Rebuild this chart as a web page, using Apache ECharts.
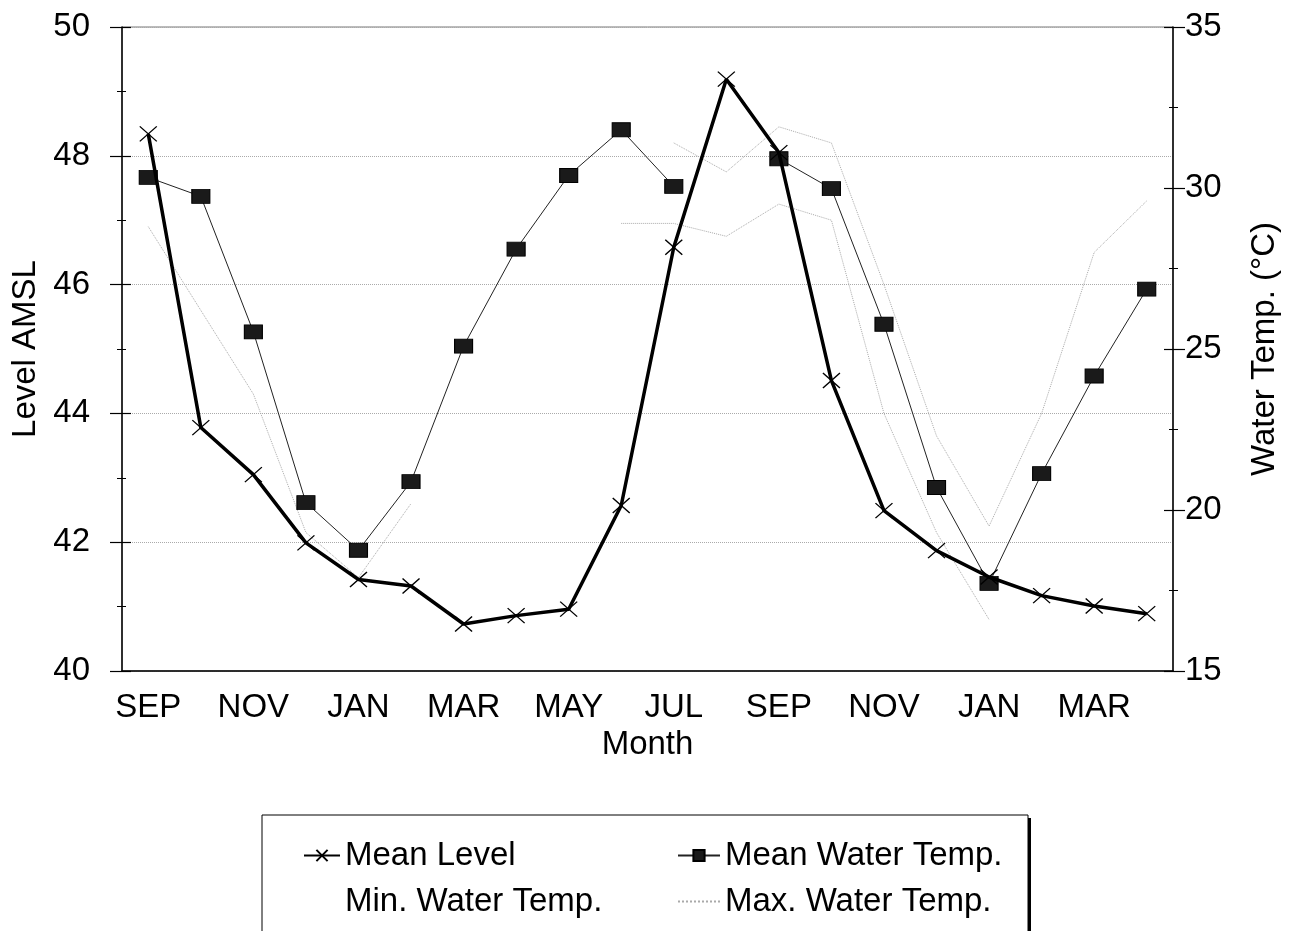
<!DOCTYPE html>
<html>
<head>
<meta charset="utf-8">
<title>Mean Level and Water Temp.</title>
<script src="https://cdn.jsdelivr.net/npm/echarts@6/dist/echarts.min.js"></script>
<style>
    html, body { margin: 0; padding: 0; background: #fff; }
    #main { width: 1294px; height: 931px; }
</style>
</head>
<body>
<div id="main"></div>
<script>
// months on the x axis (two seasons, SEP .. APR)
const months = ['SEP', 'OCT', 'NOV', 'DEC', 'JAN', 'FEB', 'MAR', 'APR', 'MAY', 'JUN', 'JUL', 'AUG',
    'SEP', 'OCT', 'NOV', 'DEC', 'JAN', 'FEB', 'MAR', 'APR'];

// left axis: level AMSL
const meanLevel = [48.34, 43.78, 43.05, 41.99, 41.42, 41.32, 40.73, 40.86, 40.96, 42.57, 46.58, 49.19,
    48.05, 44.51, 42.49, 41.87, 41.46, 41.17, 41.01, 40.89];

// right axis: water temp (°C), AUG has no mean value
const meanTemp = [30.33, 29.74, 25.53, 20.23, 18.75, 20.88, 25.09, 28.10, 30.39, 31.81, 30.05, null,
    30.91, 29.98, 25.77, 20.70, 17.72, 21.13, 24.16, 26.86];

// min / max are very faint in the picture, only the readable parts are kept
const minTemp = [28.8, 26.2, 23.6, 19.3, 17.9, 20.2, null, null, null, 28.9, 28.9, 28.5,
    29.5, 29.0, 23.0, 19.3, 16.6, null, null, null];
const maxTemp = [null, null, null, null, null, null, null, null, null, null, 31.4, 30.5,
    31.9, 31.4, 27.0, 22.3, 19.5, 23.0, 28.0, 29.6];

const levelTicks = { min: 40, max: 50, step: 2 };
const tempTicks = { min: 15, max: 35, step: 5 };

const font = 'Liberation Sans, Arial, Helvetica, sans-serif';
const crossPath = 'path://M0,0L10,10M10,0L0,10';

const chart = echarts.init(document.getElementById('main'));

const option = {
    backgroundColor: '#fff',
    animation: false,
    textStyle: { fontFamily: font },
    grid: {
        left: 122, right: 121, top: 27, bottom: 260,
        show: true, borderColor: '#777', borderWidth: 1
    },
    xAxis: [
        {
            type: 'category',
            data: months,
            boundaryGap: true,
            position: 'bottom',
            axisLine: { lineStyle: { color: '#000', width: 1.5 } },
            axisTick: { alignWithLabel: true, interval: 0, length: 11, lineStyle: { color: '#000', width: 1.2 } },
            axisLabel: { interval: 1, margin: 20, fontSize: 33, color: '#000', fontFamily: font },
            name: 'Month',
            nameLocation: 'middle',
            nameGap: 57,
            nameTextStyle: { fontSize: 33, color: '#000', fontFamily: font },
            splitLine: { show: false }
        },
        {
            // only here so the ticks cross the axis
            type: 'category',
            data: months,
            boundaryGap: true,
            position: 'bottom',
            axisLine: { show: false },
            axisTick: { inside: true, alignWithLabel: true, interval: 0, length: 11, lineStyle: { color: '#000', width: 1.2 } },
            axisLabel: { show: false },
            splitLine: { show: false }
        }
    ],
    yAxis: [
        {
            type: 'value',
            position: 'left',
            min: levelTicks.min, max: levelTicks.max, interval: levelTicks.step,
            axisLine: { show: true, lineStyle: { color: '#000', width: 1.5 } },
            axisTick: { show: true, length: 12, lineStyle: { color: '#000', width: 1.2 } },
            minorTick: { show: true, splitNumber: 2, length: 5, lineStyle: { color: '#000' } },
            axisLabel: { margin: 32, fontSize: 33, color: '#000', fontFamily: font },
            splitLine: { show: true, lineStyle: { color: '#aaa', type: 'dotted', width: 1 } },
            name: 'Level AMSL',
            nameLocation: 'middle',
            nameRotate: 90,
            nameGap: 73,
            nameTextStyle: { fontSize: 33, color: '#000', fontFamily: font }
        },
        {
            type: 'value',
            position: 'right',
            min: tempTicks.min, max: tempTicks.max, interval: tempTicks.step,
            axisLine: { show: true, lineStyle: { color: '#000', width: 1.5 } },
            axisTick: { show: true, length: 12, lineStyle: { color: '#000', width: 1.2 } },
            minorTick: { show: true, splitNumber: 2, length: 5, lineStyle: { color: '#000' } },
            axisLabel: { margin: 12, fontSize: 33, color: '#000', fontFamily: font },
            splitLine: { show: false },
            name: 'Water Temp. (°C)',
            nameLocation: 'middle',
            nameRotate: 90,
            nameGap: 75,
            nameTextStyle: { fontSize: 33, color: '#000', fontFamily: font }
        },
        {
            // inner half of the left ticks
            type: 'value',
            position: 'left',
            min: levelTicks.min, max: levelTicks.max, interval: levelTicks.step,
            axisLine: { show: false },
            axisTick: { show: true, inside: true, length: 9, lineStyle: { color: '#000', width: 1.2 } },
            minorTick: { show: true, splitNumber: 2, length: 4, lineStyle: { color: '#000' } },
            axisLabel: { show: false },
            splitLine: { show: false }
        },
        {
            // inner half of the right ticks
            type: 'value',
            position: 'right',
            min: tempTicks.min, max: tempTicks.max, interval: tempTicks.step,
            axisLine: { show: false },
            axisTick: { show: true, inside: true, length: 9, lineStyle: { color: '#000', width: 1.2 } },
            minorTick: { show: true, splitNumber: 2, length: 4, lineStyle: { color: '#000' } },
            axisLabel: { show: false },
            splitLine: { show: false }
        }
    ],
    legend: [
        {
            left: 298, top: 834,
            orient: 'vertical',
            itemGap: 13,
            itemWidth: 36, itemHeight: 14,
            textStyle: { fontSize: 33, color: '#000', fontFamily: font },
            data: [
                { name: 'Mean Level' },
                { name: 'Min. Water Temp.', itemStyle: { opacity: 0 }, lineStyle: { opacity: 0 } }
            ],
            z: 10
        },
        {
            left: 672, top: 834,
            orient: 'vertical',
            itemGap: 13,
            itemWidth: 42, itemHeight: 14,
            textStyle: { fontSize: 33, color: '#000', fontFamily: font },
            data: [
                { name: 'Mean Water Temp.' },
                { name: 'Max. Water Temp.', itemStyle: { opacity: 0 } }
            ],
            z: 10
        }
    ],
    graphic: [
        // legend frame with its drop shadow
        { type: 'rect', z: 1, shape: { x: 265, y: 818, width: 766, height: 130 }, style: { fill: '#000' } },
        { type: 'rect', z: 2, shape: { x: 262, y: 815, width: 766, height: 130 }, style: { fill: '#fff', stroke: '#000', lineWidth: 1 } }
    ],
    series: [
        {
            name: 'Min. Water Temp.',
            type: 'line',
            xAxisIndex: 0, yAxisIndex: 1,
            data: minTemp,
            showSymbol: false,
            symbol: 'none',
            connectNulls: false,
            lineStyle: { color: '#aaa', width: 1, type: 'dotted' },
            itemStyle: { color: '#aaa' },
            z: 2
        },
        {
            name: 'Max. Water Temp.',
            type: 'line',
            xAxisIndex: 0, yAxisIndex: 1,
            data: maxTemp,
            showSymbol: false,
            symbol: 'none',
            connectNulls: false,
            lineStyle: { color: '#aaa', width: 1, type: 'dotted' },
            itemStyle: { color: '#aaa' },
            z: 2
        },
        {
            name: 'Mean Water Temp.',
            type: 'line',
            xAxisIndex: 0, yAxisIndex: 1,
            data: meanTemp,
            connectNulls: false,
            symbol: 'rect',
            symbolSize: [18, 14],
            showAllSymbol: true,
            lineStyle: { color: '#222', width: 1 },
            itemStyle: { color: '#1a1a1a', borderColor: '#000', borderWidth: 1 },
            z: 4
        },
        {
            name: 'Mean Level',
            type: 'line',
            xAxisIndex: 0, yAxisIndex: 0,
            data: meanLevel,
            symbol: crossPath,
            symbolSize: [17, 15],
            showAllSymbol: true,
            lineStyle: { color: '#000', width: 3.5 },
            itemStyle: { color: '#000', borderColor: '#000', borderWidth: 1.3 },
            z: 5
        }
    ]
};

chart.setOption(option);
</script>
</body>
</html>
